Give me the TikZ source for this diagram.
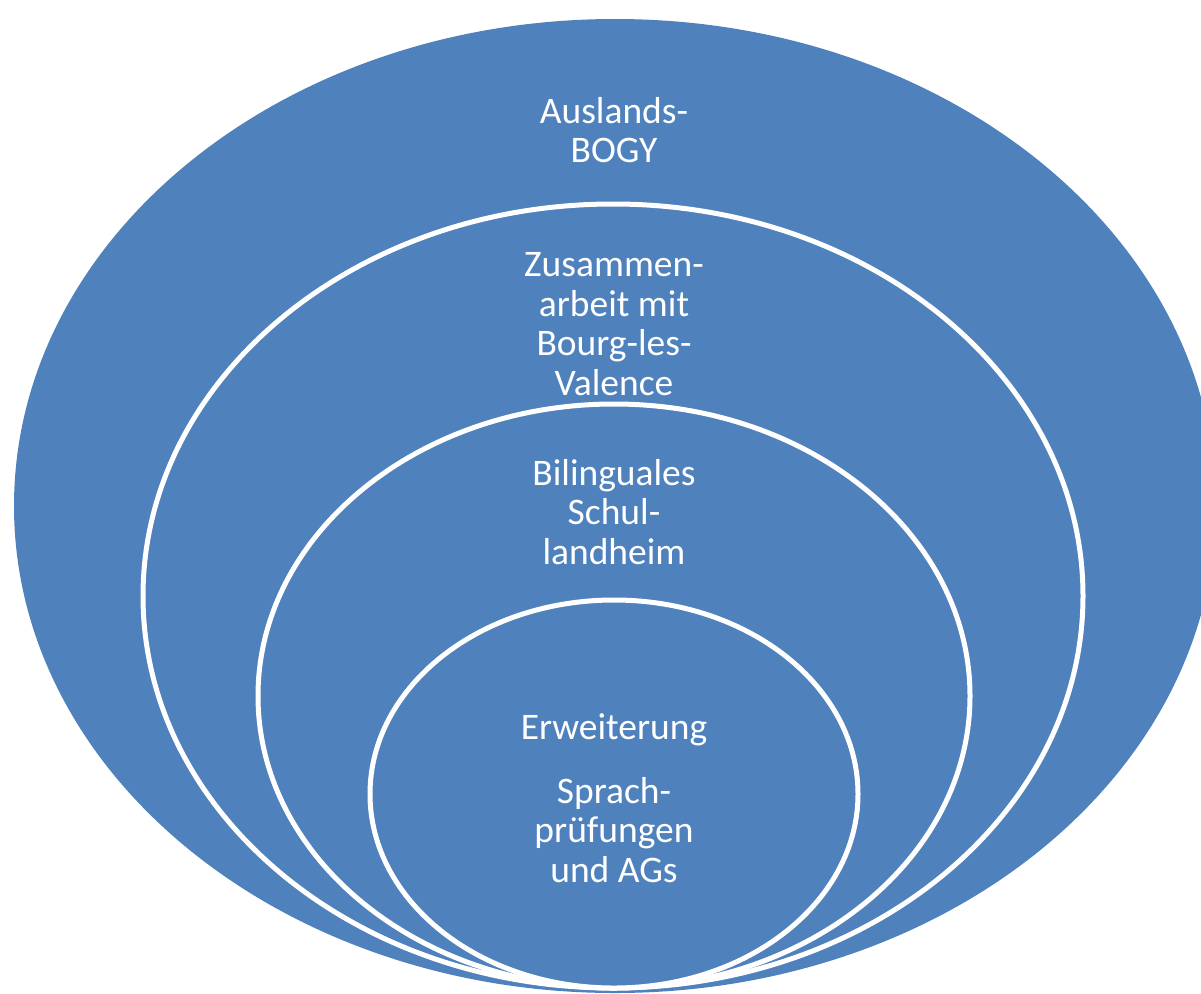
\documentclass[tikz,border=0pt]{standalone}
\usepackage{fontspec}
\setmainfont{Carlito}
\usetikzlibrary{positioning}
\definecolor{ringblue}{RGB}{79,129,189}
\tikzset{
  outerring/.style={fill=ringblue},
  ring/.style={fill=ringblue, draw=white, line width=5pt},
  lbl/.style={text=white, align=center, inner sep=0pt, font=\fontsize{37.5}{39.5}\selectfont}
}

\begin{document}
\begin{tikzpicture}[x=1pt,y=-1pt]
  \useasboundingbox (0,0) rectangle (1201,993);
  \clip (0,0) rectangle (1201,993);

  % rings, from the outside in
  \path[outerring] (615,506) ellipse [x radius=601, y radius=487];
  \path[ring] (613,596) ellipse [x radius=470, y radius=392];
  \path[ring] (614,696) ellipse [x radius=356, y radius=292];
  \path[ring] (614,794) ellipse [x radius=244, y radius=194];

  % labels
  \node[lbl] (bogy) at (614,130) {Auslands-\\BOGY};
  \node[lbl] (bourg) at (614,324) {Zusammen-\\arbeit mit\\Bourg-les-\\Valence};
  \node[lbl] (bili) at (614,512) {Bilinguales\\Schul-\\landheim};
  \node[lbl] (erw) at (614,730) {Erweiterung};
  \node[lbl] (sprach) at (614,830) {Sprach-\\prüfungen\\und AGs};
\end{tikzpicture}
\end{document}
